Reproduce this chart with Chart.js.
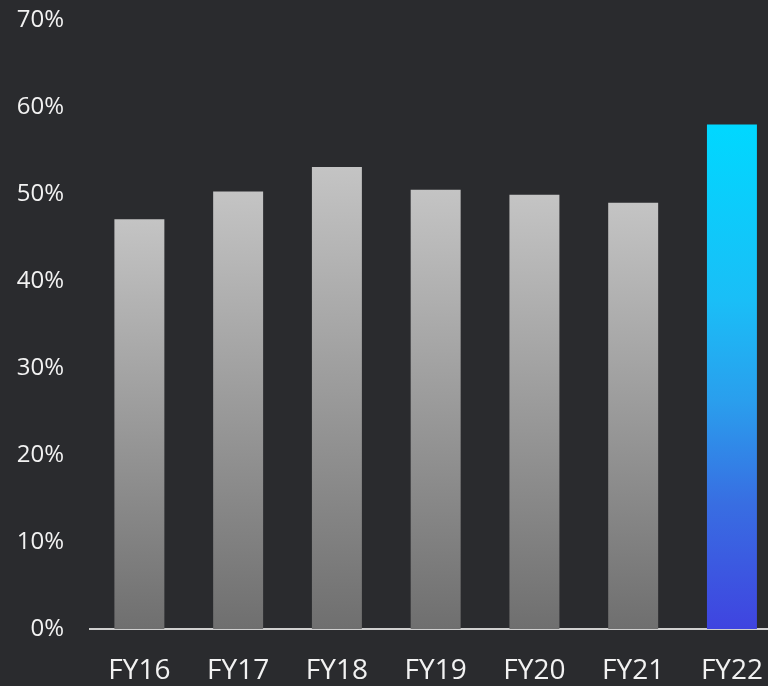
<!DOCTYPE html>
<html>
<head>
<meta charset="utf-8">
<script src="https://cdn.jsdelivr.net/npm/chart.js@4/dist/chart.umd.min.js"></script>
<style>
  html, body { margin: 0; padding: 0; background: #2a2b2e; overflow: hidden; }
  #wrap { position: relative; width: 788px; height: 686px; }
</style>
</head>
<body>
<div id="wrap"><canvas id="chart"></canvas></div>
<script>
// Fiscal years and their share values (%)
const categories = ['FY16', 'FY17', 'FY18', 'FY19', 'FY20', 'FY21', 'FY22'];
const shareValues = [47.1, 50.3, 53.1, 50.5, 49.9, 49.0, 58.0];
const yTicks = [0, 10, 20, 30, 40, 50, 60, 70];

const FONT = "'Open Sans', 'Noto Sans', sans-serif";
const highlightIndex = categories.length - 1;

// Each bar gets a vertical gradient spanning its own height
function barFill(ctx) {
  const chart = ctx.chart;
  const y = chart.scales.y;
  if (!chart.chartArea || !y) return '#b0b0b0';
  const top = y.getPixelForValue(ctx.raw);
  const base = y.getPixelForValue(0);
  const g = chart.ctx.createLinearGradient(0, top, 0, base);
  if (ctx.dataIndex === highlightIndex) {
    g.addColorStop(0, '#00d8ff');
    g.addColorStop(0.35, '#1abef7');
    g.addColorStop(0.55, '#2a9eed');
    g.addColorStop(0.75, '#386ee2');
    g.addColorStop(1, '#3f44e0');
  } else {
    g.addColorStop(0, '#c4c4c4');
    g.addColorStop(1, '#6f6f6f');
  }
  return g;
}

new Chart(document.getElementById('chart'), {
  type: 'bar',
  data: {
    labels: categories,
    datasets: [{
      data: shareValues,
      backgroundColor: barFill,
      borderWidth: 0,
      barPercentage: 0.506,
      categoryPercentage: 1
    }]
  },
  options: {
    responsive: true,
    maintainAspectRatio: false,
    animation: false,
    layout: { padding: { top: 20, left: 0, right: 0, bottom: 0 } },
    plugins: { legend: { display: false }, tooltip: { enabled: false } },
    scales: {
      x: {
        afterFit: s => { s.height = 57; },
        grid: { display: false, drawTicks: false },
        border: { display: true, color: '#cfcfcf', width: 2 },
        ticks: {
          color: '#f2f2f2',
          font: { family: FONT, size: 28 },
          padding: 25,
          maxRotation: 0
        }
      },
      y: {
        min: 0,
        max: 70,
        afterFit: s => { s.width = 90; s.paddingTop = 0; s.paddingBottom = 0; },
        afterBuildTicks: s => { s.ticks = yTicks.map(v => ({ value: v })); },
        grid: { display: false, drawTicks: false },
        border: { display: false },
        ticks: {
          color: '#f2f2f2',
          font: { family: FONT, size: 24 },
          padding: 26,
          callback: v => v + '%'
        }
      }
    }
  }
});
</script>
</body>
</html>
